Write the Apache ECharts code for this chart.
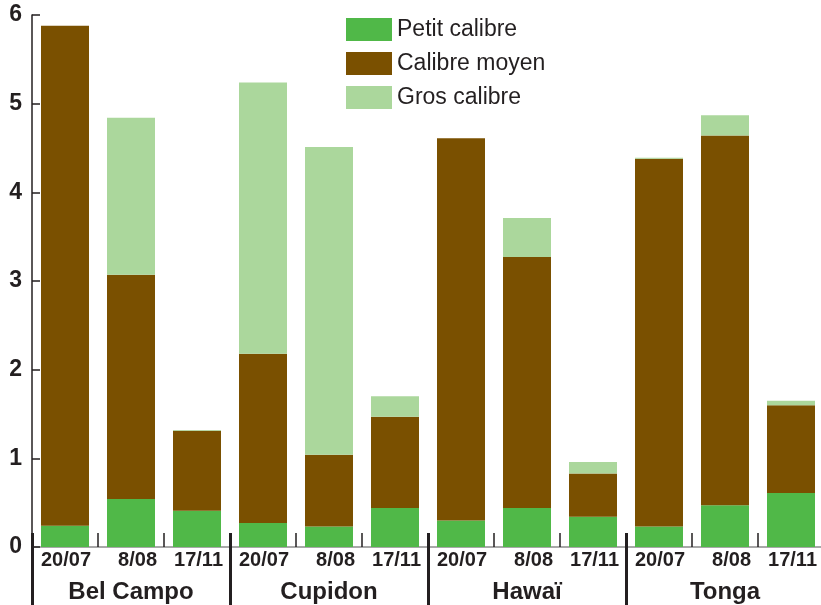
<!DOCTYPE html>
<html>
<head>
<meta charset="utf-8">
<script src="https://cdn.jsdelivr.net/npm/echarts@6/dist/echarts.min.js"></script>
<style>html,body{margin:0;padding:0;background:#fff;overflow:hidden}#c{width:821px;height:605px}</style>
</head>
<body>
<div id="c"></div>
<script>
var dates = ['20/07','8/08','17/11','20/07','8/08','17/11','20/07','8/08','17/11','20/07','8/08','17/11'];
var groups = ['Bel Campo','Cupidon','Hawaï','Tonga'];
var yTicks = [0,1,2,3,4,5,6];
var petit = [0.24,0.54,0.41, 0.27,0.23,0.44, 0.30,0.44,0.34, 0.23,0.47,0.61];
var moyen = [5.64,2.53,0.90, 1.91,0.81,1.03, 4.31,2.83,0.49, 4.15,4.17,0.99];
var gros  = [0,1.77,0.01, 3.06,3.47,0.23, 0,0.44,0.13, 0.01,0.23,0.05];

var chart = echarts.init(document.getElementById('c'));
var dark = '#231f20';
var font = 'Liberation Sans, Arial, sans-serif';
chart.setOption({
  animation: false,
  grid: {left: 32, right: -3, top: 15, bottom: 58, outerBoundsMode: 'none', containLabel: false},
  legend: {
    orient: 'vertical', left: 341, top: 13,
    itemWidth: 46, itemHeight: 23, itemGap: 11,
    icon: 'rect',
    textStyle: {fontFamily: font, fontSize: 23, color: dark},
    data: ['Petit calibre','Calibre moyen','Gros calibre']
  },
  xAxis: [{
    type: 'category', data: dates,
    axisLine: {show: true, lineStyle: {color: '#8c8c8c', width: 1.5}},
    axisTick: {show: true, inside: true, length: 14, interval: 0, lineStyle: {color: dark, width: 1.5}},
    axisLabel: {
      interval: 0, margin: 3,
      formatter: function (v) { return '{a|' + v + '}'; },
      rich: {a: {width: 52, align: 'right', fontFamily: font, fontSize: 20, fontWeight: 'bold', color: dark}}
    }
  }, {
    type: 'category', data: groups, position: 'bottom', offset: -14,
    axisLine: {show: false},
    axisTick: {show: true, length: 72, interval: 0, lineStyle: {color: dark, width: 3}},
    axisLabel: {interval: 0, margin: 47, fontFamily: font, fontSize: 24, fontWeight: 'bold', color: dark}
  }],
  yAxis: {
    type: 'value', min: yTicks[0], max: yTicks[yTicks.length-1], interval: 1,
    axisLine: {show: true, lineStyle: {color: dark, width: 1.5}},
    axisTick: {show: true, inside: true, length: 8, lineStyle: {color: dark, width: 1.5}},
    splitLine: {show: false},
    axisLabel: {margin: 10, fontFamily: font, fontSize: 23, fontWeight: 'bold', color: dark}
  },
  series: [
    {name: 'Petit calibre', type: 'bar', stack: 's', data: petit, barWidth: 48, itemStyle: {color: '#50b848'}},
    {name: 'Calibre moyen', type: 'bar', stack: 's', data: moyen, barWidth: 48, itemStyle: {color: '#7a5000'}},
    {name: 'Gros calibre', type: 'bar', stack: 's', data: gros, barWidth: 48, itemStyle: {color: '#abd79c'}}
  ]
});
</script>
</body>
</html>
